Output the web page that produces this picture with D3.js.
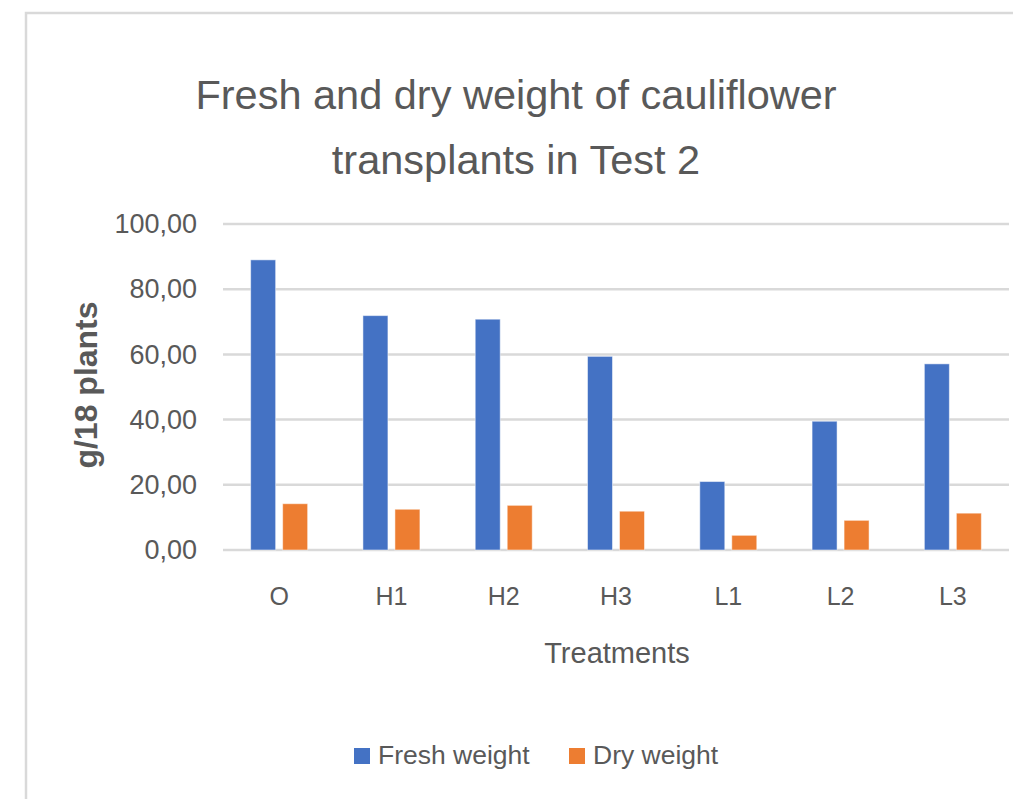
<!DOCTYPE html>
<html>
<head>
<meta charset="utf-8">
<script src="https://cdn.jsdelivr.net/npm/d3@7"></script>
<style>
  body { margin: 0; background: #fff; }
  text { font-family: "Liberation Sans", Arial, sans-serif; fill: #595959; }
</style>
</head>
<body>
<div class="container"></div>
<script>
const categories = ["O", "H1", "H2", "H3", "L1", "L2", "L3"];
const seriesNames = ["Fresh weight", "Dry weight"];
const freshWeight = [89.0, 71.9, 70.8, 59.4, 21.0, 39.5, 57.1];
const dryWeight = [14.2, 12.5, 13.7, 11.9, 4.5, 9.1, 11.3];
const yTicks = [0, 20, 40, 60, 80, 100];
const colors = ["#4472C4", "#ED7D31"];

const width = 1013, height = 799;
const svg = d3.select(".container").append("svg")
  .attr("width", width).attr("height", height);

// chart frame
svg.append("rect")
  .attr("x", 26).attr("y", 13)
  .attr("width", width + 10).attr("height", height + 10)
  .attr("fill", "#fff").attr("stroke", "#d9d9d9").attr("stroke-width", 2.5);

const x0 = d3.scaleBand().domain(categories).range([223, 1009])
  .paddingInner(0.4924).paddingOuter(0.2462);
const x1 = d3.scaleBand().domain(seriesNames).range([0, x0.bandwidth()])
  .paddingInner(0.21875);
const y = d3.scaleLinear().domain([0, 100]).range([550, 224]);

const fmt = d => d3.format(".2f")(d).replace(".", ",");

// grid
svg.append("g").selectAll("line").data(yTicks).enter().append("line")
  .attr("x1", 223).attr("x2", 1009)
  .attr("y1", d => y(d)).attr("y2", d => y(d))
  .attr("stroke", "#d9d9d9").attr("stroke-width", 2.5);

// y axis labels
const yAxis = svg.append("g").attr("transform", "translate(223,0)")
  .call(d3.axisLeft(y).tickValues(yTicks).tickFormat(fmt).tickSize(0).tickPadding(26));
yAxis.select(".domain").remove();
yAxis.selectAll("text").style("font-size", "27px").attr("fill", "#595959")
  .style("font-family", "'Liberation Sans', Arial, sans-serif");

// x axis labels
const xAxis = svg.append("g").attr("transform", "translate(0,550)")
  .call(d3.axisBottom(x0).tickSize(0).tickPadding(37));
xAxis.select(".domain").remove();
xAxis.selectAll("text").style("font-size", "25px").attr("fill", "#595959")
  .style("font-family", "'Liberation Sans', Arial, sans-serif");

// bars
const rows = categories.map((c, i) => ({ cat: c, vals: [freshWeight[i], dryWeight[i]] }));
const groups = svg.append("g").selectAll("g").data(rows).enter().append("g")
  .attr("transform", d => `translate(${x0(d.cat)},0)`);
groups.selectAll("rect")
  .data(d => d.vals.map((v, k) => ({ name: seriesNames[k], v: v, k: k })))
  .enter().append("rect")
  .attr("x", d => x1(d.name))
  .attr("width", x1.bandwidth())
  .attr("y", d => y(d.v))
  .attr("height", d => y(0) - y(d.v))
  .attr("fill", d => colors[d.k])
  .attr("stroke", "#fff").attr("stroke-opacity", 0.5).attr("stroke-width", 1);

// title
svg.append("text").attr("x", 516).attr("y", 109).attr("text-anchor", "middle")
  .style("font-size", "41.5px").text("Fresh and dry weight of cauliflower");
svg.append("text").attr("x", 516).attr("y", 174).attr("text-anchor", "middle")
  .style("font-size", "41.5px").text("transplants in Test 2");

// axis titles
svg.append("text").attr("x", 617).attr("y", 663).attr("text-anchor", "middle")
  .style("font-size", "29px").text("Treatments");
svg.append("text").attr("transform", "translate(97,385) rotate(-90)")
  .attr("text-anchor", "middle").style("font-size", "32px").style("font-weight", "bold")
  .text("g/18 plants");

// legend
const legendX = [354, 569];
const legend = svg.append("g").selectAll("g").data(seriesNames).enter().append("g")
  .attr("transform", (d, i) => `translate(${legendX[i]},748)`);
legend.append("rect").attr("width", 16).attr("height", 16)
  .attr("fill", (d, i) => colors[i]);
legend.append("text").attr("x", 24).attr("y", 15.5)
  .style("font-size", "26.5px").text(d => d);
</script>
</body>
</html>
